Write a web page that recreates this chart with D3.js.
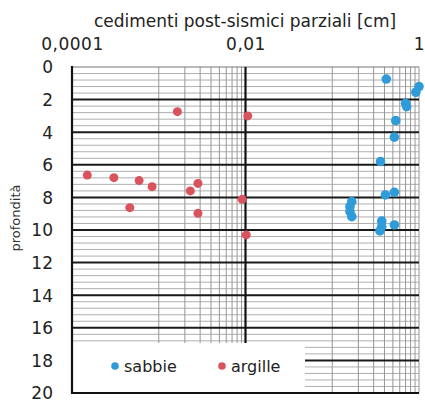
<!DOCTYPE html>
<html><head><meta charset="utf-8">
<script src="https://cdn.jsdelivr.net/npm/d3@7"></script>
<style>body{margin:0;background:#fff}svg{display:block}text{font-family:"DejaVu Sans",sans-serif}</style>
</head><body>
<script>
const sabbieX = [0.42,1.0,0.92,0.70,0.72,0.54,0.52,0.36,0.41,0.52,0.168,0.16,0.16,0.168,0.372,0.372,0.52,0.354];
const sabbieY = [0.74,1.2,1.55,2.23,2.43,3.29,4.3,5.8,7.85,7.69,8.26,8.57,8.87,9.18,9.45,9.8,9.69,10.06];
const argilleX = [0.00164,0.0106,0.00015,0.000304,0.000594,0.000838,0.00231,0.00283,0.000464,0.00283,0.00916,0.0102];
const argilleY = [2.74,3.0,6.63,6.79,6.97,7.34,7.6,7.14,8.63,8.98,8.12,10.3];
const xTicks = [0.0001,0.01,1];
const xTickLabels = ["0,0001","0,01","1"];
const yTicks = [0,2,4,6,8,10,12,14,16,18,20];
const legendLabels = ["sabbie","argille"];
const colors = ["#2f9bd8","#d9535f"];

const W=425,H=403;
const svg=d3.select("body").append("svg").attr("width",W).attr("height",H);
const x=d3.scaleLog().domain([1e-4,1]).range([72,419]);
const y=d3.scaleLinear().domain([0,20]).range([67,393]);

// minor vertical grid (decades 0.001-0.01 and 0.1-1)
const vMinor=[];
[0.001,0.1].forEach(b=>{for(let k=1;k<=9;k++)vMinor.push(b*k);});
vMinor.push(1);
svg.append("g").selectAll("line").data(vMinor).join("line")
 .attr("x1",d=>x(d)).attr("x2",d=>x(d)).attr("y1",y(0)).attr("y2",y(20))
 .attr("stroke","#8a8a8a").attr("stroke-width",0.9);
// horizontal thin grid every 0.4
const hThin=d3.range(0,50).map(i=>i*0.4).filter(v=>Math.abs(v/2-Math.round(v/2))>0.01);
svg.append("g").selectAll("line").data(hThin).join("line")
 .attr("x1",x(1e-4)).attr("x2",x(1)).attr("y1",d=>y(d)).attr("y2",d=>y(d))
 .attr("stroke","#9a9a9a").attr("stroke-width",0.8);
// top border
svg.append("line").attr("x1",x(1e-4)).attr("x2",x(1)).attr("y1",y(0)).attr("y2",y(0)).attr("stroke","#777").attr("stroke-width",1);
// thick horizontal
svg.append("g").selectAll("line").data(yTicks.filter(d=>d>0&&d<20)).join("line")
 .attr("x1",x(1e-4)).attr("x2",x(1)).attr("y1",d=>y(d)).attr("y2",d=>y(d))
 .attr("stroke","#1a1a1a").attr("stroke-width",2);
// thick 0.01 vertical
svg.append("line").attr("x1",x(0.01)).attr("x2",x(0.01)).attr("y1",y(0)).attr("y2",y(20)).attr("stroke","#111").attr("stroke-width",2.2);

// legend box
svg.append("rect").attr("x",73).attr("y",343).attr("width",232).attr("height",50).attr("fill","#fff");

// axes lines
svg.append("line").attr("x1",x(1e-4)).attr("x2",x(1e-4)).attr("y1",y(0)-1).attr("y2",y(20)+1).attr("stroke","#111").attr("stroke-width",2.2);
svg.append("line").attr("x1",x(1e-4)).attr("x2",x(1)).attr("y1",y(20)).attr("y2",y(20)).attr("stroke","#111").attr("stroke-width",2.2);

// tick labels via axes
const xa=svg.append("g").attr("transform",`translate(0,${y(0)-17})`)
 .call(d3.axisTop(x).tickValues(xTicks).tickFormat((d,i)=>xTickLabels[i]).tickSize(0).tickPadding(0));
xa.select(".domain").remove();
xa.selectAll("text").attr("font-size",17).attr("fill","#222").attr("letter-spacing",0.5).attr("font-family","DejaVu Sans, sans-serif");
const ya=svg.append("g").attr("transform",`translate(${x(1e-4)-19},0)`)
 .call(d3.axisLeft(y).tickValues(yTicks).tickSize(0).tickPadding(0));
ya.select(".domain").remove();
ya.selectAll("text").attr("font-size",17).attr("fill","#222").attr("dy","0.35em").attr("font-family","DejaVu Sans, sans-serif");

svg.append("text").attr("x",245).attr("y",27).attr("text-anchor","middle").attr("font-size",17).attr("fill","#222").text("cedimenti post-sismici parziali [cm]");
svg.append("text").attr("transform","translate(20,218) rotate(-90)").attr("text-anchor","middle").attr("font-size",13).attr("fill","#333").text("profondità");

// points
svg.append("g").selectAll("circle").data(argilleX.map((v,i)=>[v,argilleY[i]])).join("circle")
 .attr("cx",d=>x(d[0])).attr("cy",d=>y(d[1])).attr("r",4.5).attr("fill",colors[1]);
svg.append("g").selectAll("circle").data(sabbieX.map((v,i)=>[v,sabbieY[i]])).join("circle")
 .attr("cx",d=>x(d[0])).attr("cy",d=>y(d[1])).attr("r",4.8).attr("fill",colors[0]);

// legend
const lx=[115,222];
legendLabels.forEach((t,i)=>{
 svg.append("circle").attr("cx",lx[i]).attr("cy",366).attr("r",3.8).attr("fill",colors[i]);
 svg.append("text").attr("x",lx[i]+9).attr("y",371.5).attr("font-size",16).attr("fill","#222").text(t);
});
</script>
</body></html>
